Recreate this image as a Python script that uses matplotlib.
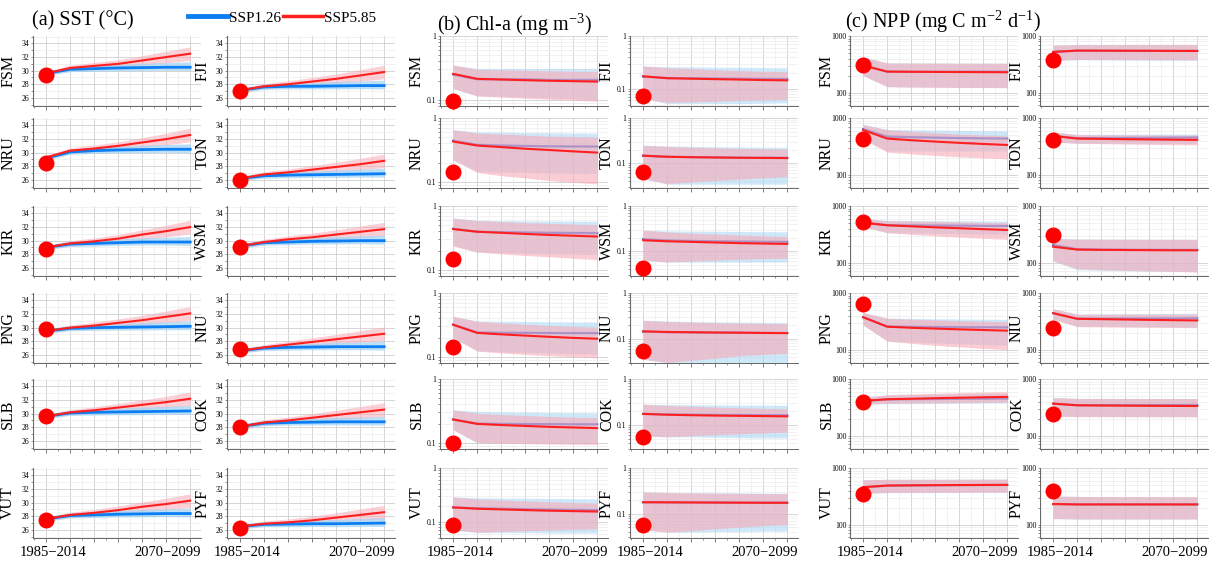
import matplotlib
matplotlib.use("Agg")
import matplotlib.pyplot as plt
from matplotlib.ticker import MultipleLocator, LogLocator, FuncFormatter, NullFormatter, FixedLocator
from matplotlib.lines import Line2D
import matplotlib.transforms as mtransforms
import numpy as np

plt.rcParams['font.family'] = ['Liberation Serif', 'DejaVu Serif']
plt.rcParams['mathtext.fontset'] = 'stix'

# ---------------- data ----------------
PERIODS = ['1985\u22122014', '', '', '', '', '', '2070\u22122099']
COL1 = ['FSM', 'NRU', 'KIR', 'PNG', 'SLB', 'VUT']
COL2 = ['FJI', 'TON', 'WSM', 'NIU', 'COK', 'PYF']
SCENARIOS = ['SSP1.26', 'SSP5.85']

# SST (deg C)
SST_OBS = {'FSM': 29.3, 'FJI': 27.0, 'NRU': 28.5, 'TON': 26.0, 'KIR': 28.7, 'WSM': 29.1,
           'PNG': 29.8, 'NIU': 26.9, 'SLB': 29.6, 'COK': 28.0, 'VUT': 27.5, 'PYF': 26.3}
SST_126 = {
    'FSM': [29.6, 30.2, 30.3, 30.4, 30.45, 30.5, 30.5],
    'FJI': [27.1, 27.6, 27.7, 27.7, 27.75, 27.8, 27.8],
    'NRU': [29.2, 30.1, 30.3, 30.4, 30.45, 30.5, 30.5],
    'TON': [26.2, 26.6, 26.7, 26.75, 26.8, 26.85, 26.9],
    'KIR': [29.0, 29.5, 29.6, 29.7, 29.8, 29.8, 29.8],
    'WSM': [29.2, 29.7, 29.8, 29.9, 29.95, 30.0, 30.0],
    'PNG': [29.5, 29.9, 30.0, 30.05, 30.1, 30.15, 30.2],
    'NIU': [26.6, 27.0, 27.1, 27.15, 27.2, 27.2, 27.2],
    'SLB': [29.6, 30.1, 30.2, 30.25, 30.3, 30.35, 30.4],
    'COK': [28.1, 28.6, 28.7, 28.75, 28.8, 28.8, 28.8],
    'VUT': [27.6, 28.1, 28.2, 28.3, 28.35, 28.4, 28.4],
    'PYF': [26.5, 26.8, 26.85, 26.9, 26.9, 26.95, 27.0],
}
SST_585 = {
    'FSM': [29.6, 30.4, 30.7, 31.0, 31.5, 32.0, 32.5],
    'FJI': [27.1, 27.7, 28.0, 28.4, 28.8, 29.3, 29.8],
    'NRU': [29.3, 30.3, 30.6, 31.0, 31.5, 32.0, 32.6],
    'TON': [26.2, 26.8, 27.1, 27.5, 27.9, 28.3, 28.8],
    'KIR': [29.0, 29.6, 29.9, 30.3, 30.9, 31.4, 32.0],
    'WSM': [29.2, 29.8, 30.2, 30.5, 30.9, 31.3, 31.7],
    'PNG': [29.5, 30.0, 30.3, 30.7, 31.1, 31.6, 32.1],
    'NIU': [26.6, 27.1, 27.5, 27.9, 28.3, 28.7, 29.1],
    'SLB': [29.6, 30.2, 30.5, 30.9, 31.3, 31.7, 32.2],
    'COK': [28.1, 28.7, 29.0, 29.4, 29.8, 30.2, 30.6],
    'VUT': [27.6, 28.2, 28.5, 28.9, 29.4, 29.8, 30.3],
    'PYF': [26.5, 26.9, 27.1, 27.4, 27.8, 28.2, 28.6],
}
SST_126_LO_DEV = [0.3, 0.35, 0.4, 0.4, 0.45, 0.45, 0.5]
SST_126_HI_DEV = [0.3, 0.4, 0.5, 0.55, 0.65, 0.7, 0.8]
SST_585_DEV = [0.3, 0.4, 0.5, 0.6, 0.7, 0.85, 1.0]

# Chl-a (mg m-3)
CHL_OBS = {'FSM': 0.097, 'FJI': 0.072, 'NRU': 0.144, 'TON': 0.065, 'KIR': 0.15, 'WSM': 0.043,
           'PNG': 0.14, 'NIU': 0.054, 'SLB': 0.1, 'COK': 0.055, 'VUT': 0.089, 'PYF': 0.057}
CHL_126 = {
    'FSM': [0.25, 0.21, 0.21, 0.21, 0.205, 0.205, 0.205],
    'FJI': [0.17, 0.16, 0.158, 0.156, 0.155, 0.154, 0.153],
    'NRU': [0.44, 0.38, 0.37, 0.365, 0.36, 0.358, 0.357],
    'TON': [0.146, 0.138, 0.136, 0.134, 0.133, 0.132, 0.131],
    'KIR': [0.44, 0.395, 0.39, 0.385, 0.38, 0.377, 0.374],
    'WSM': [0.183, 0.172, 0.168, 0.165, 0.163, 0.161, 0.16],
    'PNG': [0.32, 0.24, 0.238, 0.237, 0.236, 0.235, 0.235],
    'NIU': [0.146, 0.14, 0.139, 0.138, 0.137, 0.136, 0.135],
    'SLB': [0.232, 0.2, 0.198, 0.197, 0.196, 0.195, 0.195],
    'COK': [0.174, 0.17, 0.168, 0.166, 0.165, 0.164, 0.163],
    'VUT': [0.185, 0.178, 0.175, 0.172, 0.169, 0.167, 0.165],
    'PYF': [0.177, 0.176, 0.175, 0.175, 0.174, 0.174, 0.173],
}
CHL_126_LO = {
    'FSM': [0.15, 0.115, 0.113, 0.11, 0.107, 0.104, 0.10],
    'FJI': [0.065, 0.052, 0.052, 0.052, 0.052, 0.053, 0.054],
    'NRU': [0.22, 0.145, 0.142, 0.14, 0.138, 0.136, 0.135],
    'TON': [0.045, 0.034, 0.034, 0.034, 0.034, 0.034, 0.034],
    'KIR': [0.24, 0.19, 0.185, 0.182, 0.179, 0.176, 0.174],
    'WSM': [0.063, 0.057, 0.057, 0.057, 0.057, 0.057, 0.057],
    'PNG': [0.2, 0.124, 0.12, 0.117, 0.114, 0.112, 0.11],
    'NIU': [0.036, 0.03, 0.03, 0.03, 0.03, 0.03, 0.03],
    'SLB': [0.16, 0.1, 0.1, 0.099, 0.099, 0.098, 0.098],
    'COK': [0.058, 0.055, 0.055, 0.054, 0.053, 0.052, 0.052],
    'VUT': [0.071, 0.063, 0.063, 0.063, 0.062, 0.062, 0.062],
    'PYF': [0.044, 0.039, 0.039, 0.04, 0.04, 0.041, 0.041],
}
CHL_126_HI = {
    'FSM': [0.35, 0.31, 0.31, 0.31, 0.31, 0.31, 0.31],
    'FJI': [0.27, 0.26, 0.26, 0.255, 0.255, 0.252, 0.25],
    'NRU': [0.66, 0.6, 0.6, 0.59, 0.59, 0.58, 0.58],
    'TON': [0.25, 0.24, 0.235, 0.23, 0.228, 0.225, 0.223],
    'KIR': [0.65, 0.6, 0.59, 0.585, 0.58, 0.578, 0.576],
    'WSM': [0.29, 0.28, 0.277, 0.274, 0.272, 0.27, 0.268],
    'PNG': [0.43, 0.365, 0.36, 0.357, 0.354, 0.352, 0.35],
    'NIU': [0.255, 0.245, 0.24, 0.236, 0.233, 0.23, 0.228],
    'SLB': [0.33, 0.31, 0.305, 0.303, 0.3, 0.298, 0.297],
    'COK': [0.283, 0.278, 0.275, 0.273, 0.271, 0.27, 0.268],
    'VUT': [0.29, 0.28, 0.277, 0.274, 0.271, 0.269, 0.267],
    'PYF': [0.298, 0.29, 0.287, 0.285, 0.283, 0.281, 0.28],
}
CHL_585 = {
    'FSM': [0.255, 0.213, 0.208, 0.203, 0.199, 0.196, 0.193],
    'FJI': [0.172, 0.158, 0.155, 0.152, 0.149, 0.146, 0.144],
    'NRU': [0.428, 0.37, 0.35, 0.33, 0.315, 0.3, 0.287],
    'TON': [0.146, 0.138, 0.135, 0.133, 0.131, 0.13, 0.129],
    'KIR': [0.435, 0.395, 0.38, 0.365, 0.352, 0.342, 0.332],
    'WSM': [0.174, 0.165, 0.16, 0.155, 0.15, 0.147, 0.144],
    'PNG': [0.318, 0.237, 0.225, 0.215, 0.206, 0.198, 0.192],
    'NIU': [0.146, 0.142, 0.14, 0.138, 0.137, 0.135, 0.134],
    'SLB': [0.232, 0.198, 0.19, 0.184, 0.178, 0.174, 0.17],
    'COK': [0.174, 0.167, 0.163, 0.16, 0.158, 0.156, 0.154],
    'VUT': [0.185, 0.175, 0.17, 0.165, 0.161, 0.158, 0.155],
    'PYF': [0.177, 0.176, 0.175, 0.174, 0.173, 0.172, 0.172],
}
CHL_585_LO = {
    'FSM': [0.15, 0.115, 0.11, 0.106, 0.102, 0.099, 0.095],
    'FJI': [0.065, 0.055, 0.056, 0.058, 0.06, 0.061, 0.063],
    'NRU': [0.22, 0.14, 0.125, 0.115, 0.105, 0.098, 0.093],
    'TON': [0.045, 0.035, 0.038, 0.041, 0.044, 0.047, 0.05],
    'KIR': [0.235, 0.19, 0.178, 0.168, 0.16, 0.152, 0.145],
    'WSM': [0.063, 0.057, 0.06, 0.063, 0.066, 0.068, 0.07],
    'PNG': [0.2, 0.123, 0.115, 0.109, 0.104, 0.1, 0.096],
    'NIU': [0.036, 0.031, 0.034, 0.038, 0.043, 0.046, 0.049],
    'SLB': [0.16, 0.1, 0.098, 0.097, 0.096, 0.095, 0.094],
    'COK': [0.058, 0.055, 0.058, 0.061, 0.064, 0.067, 0.07],
    'VUT': [0.071, 0.064, 0.066, 0.068, 0.07, 0.072, 0.074],
    'PYF': [0.044, 0.039, 0.042, 0.046, 0.05, 0.054, 0.057],
}
CHL_585_HI = {
    'FSM': [0.35, 0.30, 0.295, 0.29, 0.285, 0.28, 0.278],
    'FJI': [0.27, 0.25, 0.24, 0.23, 0.22, 0.215, 0.21],
    'NRU': [0.65, 0.58, 0.56, 0.54, 0.52, 0.51, 0.5],
    'TON': [0.247, 0.235, 0.225, 0.218, 0.212, 0.208, 0.205],
    'KIR': [0.64, 0.59, 0.57, 0.55, 0.535, 0.52, 0.51],
    'WSM': [0.29, 0.265, 0.25, 0.24, 0.228, 0.218, 0.21],
    'PNG': [0.433, 0.36, 0.34, 0.325, 0.31, 0.3, 0.29],
    'NIU': [0.255, 0.24, 0.232, 0.226, 0.222, 0.218, 0.215],
    'SLB': [0.325, 0.29, 0.278, 0.268, 0.26, 0.252, 0.247],
    'COK': [0.283, 0.265, 0.255, 0.245, 0.237, 0.23, 0.226],
    'VUT': [0.288, 0.265, 0.255, 0.245, 0.236, 0.229, 0.224],
    'PYF': [0.298, 0.288, 0.284, 0.28, 0.277, 0.275, 0.273],
}

# NPP (mg C m-2 d-1)
NPP_OBS = {'FSM': 310, 'FJI': 371, 'NRU': 422, 'TON': 410, 'KIR': 522, 'WSM': 308,
           'PNG': 636, 'NIU': 244, 'SLB': 399, 'COK': 244, 'VUT': 348, 'PYF': 399}
NPP_126 = {
    'FSM': [300, 235, 234, 234, 234, 235, 235],
    'FJI': [523, 550, 548, 547, 546, 545, 545],
    'NRU': [636, 470, 458, 450, 443, 437, 433],
    'TON': [483, 440, 442, 445, 447, 450, 452],
    'KIR': [510, 460, 455, 452, 449, 446, 444],
    'WSM': [205, 172, 170, 169, 169, 168, 168],
    'PNG': [375, 256, 253, 251, 249, 248, 247],
    'NIU': [440, 352, 353, 354, 355, 356, 358],
    'SLB': [410, 435, 440, 443, 446, 449, 452],
    'COK': [367, 345, 346, 346, 347, 347, 348],
    'VUT': [458, 488, 492, 495, 498, 500, 502],
    'PYF': [231, 228, 228, 228, 228, 228, 228],
}
NPP_126_LO = {
    'FSM': [200, 128, 126, 125, 124, 123, 123],
    'FJI': [370, 380, 378, 376, 374, 372, 370],
    'NRU': [422, 262, 262, 262, 261, 261, 261],
    'TON': [378, 357, 357, 356, 355, 355, 354],
    'KIR': [432, 338, 333, 328, 324, 320, 316],
    'WSM': [107, 75, 73, 72, 71, 70, 70],
    'PNG': [272, 142, 136, 131, 127, 123, 120],
    'NIU': [345, 258, 256, 254, 252, 250, 248],
    'SLB': [355, 365, 368, 370, 372, 374, 376],
    'COK': [222, 216, 216, 216, 215, 215, 215],
    'VUT': [358, 366, 367, 368, 369, 370, 370],
    'PYF': [128, 125, 125, 125, 125, 125, 125],
}
NPP_126_HI = {
    'FSM': [425, 336, 335, 334, 333, 333, 332],
    'FJI': [690, 712, 712, 712, 712, 712, 712],
    'NRU': [780, 630, 620, 610, 604, 598, 594],
    'TON': [570, 515, 515, 516, 517, 517, 518],
    'KIR': [600, 560, 555, 551, 548, 545, 543],
    'WSM': [268, 262, 261, 260, 259, 259, 258],
    'PNG': [455, 360, 355, 351, 348, 345, 343],
    'NIU': [526, 425, 428, 431, 434, 437, 440],
    'SLB': [470, 520, 530, 540, 548, 555, 560],
    'COK': [470, 455, 455, 454, 453, 453, 452],
    'VUT': [619, 632, 633, 634, 635, 636, 636],
    'PYF': [321, 315, 314, 313, 313, 312, 312],
}
NPP_585 = {
    'FSM': [302, 235, 233, 232, 231, 230, 229],
    'FJI': [523, 553, 551, 549, 548, 546, 545],
    'NRU': [611, 433, 405, 383, 364, 348, 334],
    'TON': [483, 433, 428, 422, 418, 414, 410],
    'KIR': [508, 456, 438, 420, 405, 390, 377],
    'WSM': [191, 170, 168, 167, 166, 165, 165],
    'PNG': [373, 254, 243, 235, 228, 222, 216],
    'NIU': [440, 350, 345, 340, 335, 331, 327],
    'SLB': [410, 439, 448, 458, 467, 475, 483],
    'COK': [367, 343, 340, 338, 336, 335, 333],
    'VUT': [458, 490, 494, 497, 500, 502, 504],
    'PYF': [231, 227, 227, 227, 227, 227, 227],
}
NPP_585_LO = {
    'FSM': [199, 127, 125, 124, 123, 123, 122],
    'FJI': [372, 385, 384, 383, 382, 381, 381],
    'NRU': [420, 250, 232, 218, 206, 197, 190],
    'TON': [377, 357, 352, 347, 342, 338, 334],
    'KIR': [432, 338, 316, 297, 282, 269, 258],
    'WSM': [107, 78, 75, 73, 71, 70, 68],
    'PNG': [272, 141, 129, 119, 112, 105, 100],
    'NIU': [344, 254, 252, 250, 248, 246, 244],
    'SLB': [358, 370, 374, 378, 382, 385, 388],
    'COK': [221, 216, 216, 215, 215, 215, 215],
    'VUT': [358, 370, 371, 372, 372, 373, 373],
    'PYF': [128, 126, 126, 126, 126, 126, 126],
}
NPP_585_HI = {
    'FSM': [425, 334, 333, 332, 331, 330, 330],
    'FJI': [689, 705, 706, 707, 708, 709, 709],
    'NRU': [760, 619, 580, 550, 520, 500, 484],
    'TON': [570, 505, 503, 501, 499, 497, 496],
    'KIR': [598, 550, 540, 530, 520, 512, 505],
    'WSM': [265, 260, 259, 259, 258, 258, 258],
    'PNG': [452, 358, 345, 335, 325, 318, 312],
    'NIU': [526, 422, 422, 422, 422, 422, 422],
    'SLB': [470, 530, 545, 560, 575, 585, 594],
    'COK': [470, 453, 453, 452, 452, 452, 452],
    'VUT': [619, 630, 631, 632, 634, 635, 636],
    'PYF': [321, 314, 313, 312, 312, 312, 312],
}

# ---------------- layout / style ----------------
W, H = 1213, 563
BLUE = '#0a7ef2'
RED = '#ff1f1f'
BLUE_FILL = '#9fd3f5'
RED_FILL = '#f8aab6'

LEFTS = [33, 227, 440, 630, 850, 1040]
PANEL_W = 168
BOTTOMS = [106, 188, 276, 363, 449, 538]
PANEL_H = 70

CHL_YMIN = {'FSM': 0.08, 'NRU': 0.08, 'KIR': 0.08, 'PNG': 0.08, 'SLB': 0.08, 'VUT': 0.05,
            'FJI': 0.047, 'TON': 0.028, 'WSM': 0.028, 'NIU': 0.03, 'COK': 0.03, 'PYF': 0.029}

fig = plt.figure(figsize=(W / 100, H / 100), dpi=100)

x = np.arange(len(PERIODS))


def make_ax(left_px, bottom_px):
    return fig.add_axes([left_px / W, (H - bottom_px) / H, PANEL_W / W, PANEL_H / H])


def style_ax(ax, country, row):
    ax.set_xlim(-0.55, 6.45)
    ax.xaxis.set_major_locator(FixedLocator(x))
    ax.xaxis.set_minor_locator(MultipleLocator(0.5))
    ax.set_xticklabels([''] * len(PERIODS))
    if row == 5:
        trans = mtransforms.blended_transform_factory(ax.transData, ax.transAxes)
        ax.text(x[0] + 0.3, -0.12, PERIODS[0], transform=trans, ha='center', va='top',
                fontsize=10.5)
        ax.text(6.45, -0.12, PERIODS[-1], transform=trans, ha='right', va='top',
                fontsize=10.5)
    ax.grid(which='major', color='#cfcfcf', lw=0.6)
    ax.grid(which='minor', color='#ececec', lw=0.5)
    ax.set_axisbelow(True)
    for s in ['top', 'right']:
        ax.spines[s].set_visible(False)
    for s in ['left', 'bottom']:
        ax.spines[s].set_color('#666666')
        ax.spines[s].set_linewidth(0.7)
    ax.tick_params(axis='x', which='major', length=3, width=0.6, color='#666666', pad=1)
    ax.tick_params(axis='x', which='minor', length=1.5, width=0.5, color='#666666')
    ax.tick_params(axis='y', which='both', labelsize=5.5, length=1.5, width=0.5,
                   color='#666666', pad=1)
    ax.set_ylabel(country, fontsize=11.5, labelpad=0)
    ax.yaxis.set_label_coords(-0.1, 0.5)


def draw(ax, obs, m1, lo1, hi1, m2, lo2, hi2, sst=False):
    if sst:
        ax.fill_between(x, lo2, hi2, color=RED_FILL, alpha=0.55, lw=0, zorder=1)
        ax.fill_between(x, lo1, hi1, color=BLUE_FILL, alpha=0.7, lw=0, zorder=2)
        ax.plot(x, m1, color=BLUE, lw=2.0, zorder=3)
        ax.plot(x, m2, color=RED, lw=1.5, zorder=4)
    else:
        ax.fill_between(x, lo1, hi1, color=BLUE_FILL, alpha=0.5, lw=0, zorder=1)
        ax.plot(x, m1, color='#3d6fe0', lw=1.6, zorder=2)
        ax.fill_between(x, lo2, hi2, color=RED_FILL, alpha=0.6, lw=0, zorder=3)
        ax.plot(x, m2, color=RED, lw=1.5, zorder=4)
    ax.plot([x[0]], [obs], 'o', color='#ff0000', ms=10.5, zorder=6, clip_on=False)


log_fmt = FuncFormatter(lambda v, _: f'{v:g}')

for c, col in enumerate([COL1, COL2]):
    for r, country in enumerate(col):
        # SST
        ax = make_ax(LEFTS[0 + c], BOTTOMS[r])
        m1 = np.array(SST_126[country])
        m2 = np.array(SST_585[country])
        draw(ax, SST_OBS[country],
             m1, m1 - np.array(SST_126_LO_DEV), m1 + np.array(SST_126_HI_DEV),
             m2, m2 - np.array(SST_585_DEV), m2 + np.array(SST_585_DEV), sst=True)
        ax.set_ylim(24.8, 35.1)
        ax.yaxis.set_minor_locator(MultipleLocator(1))
        ax.set_yticks([26, 28, 30, 32, 34])
        style_ax(ax, country, r)

        # Chl-a
        ax = make_ax(LEFTS[2 + c], BOTTOMS[r])
        draw(ax, CHL_OBS[country],
             CHL_126[country], CHL_126_LO[country], CHL_126_HI[country],
             CHL_585[country], CHL_585_LO[country], CHL_585_HI[country])
        ax.set_yscale('log')
        ax.set_ylim(CHL_YMIN[country], 1.0)
        ax.yaxis.set_major_locator(LogLocator(base=10, numticks=5))
        ax.yaxis.set_major_formatter(log_fmt)
        ax.yaxis.set_minor_locator(LogLocator(base=10, subs=np.arange(2, 10), numticks=20))
        ax.yaxis.set_minor_formatter(NullFormatter())
        style_ax(ax, country, r)
        ax.yaxis.set_label_coords(-0.09, 0.5)

        # NPP
        ax = make_ax(LEFTS[4 + c], BOTTOMS[r])
        draw(ax, NPP_OBS[country],
             NPP_126[country], NPP_126_LO[country], NPP_126_HI[country],
             NPP_585[country], NPP_585_LO[country], NPP_585_HI[country])
        ax.set_yscale('log')
        ax.set_ylim(58, 1000)
        ax.yaxis.set_major_locator(LogLocator(base=10, numticks=5))
        ax.yaxis.set_major_formatter(log_fmt)
        ax.yaxis.set_minor_locator(LogLocator(base=10, subs=np.arange(2, 10), numticks=20))
        ax.yaxis.set_minor_formatter(NullFormatter())
        style_ax(ax, country, r)
        ax.yaxis.set_label_coords(-0.09, 0.5)

# titles
fig.text(32 / W, 1 - 21 / H, '(a) SST (\u00b0C)', fontsize=14.5, va='center', ha='left')
fig.text(437 / W, 1 - 25 / H, r'(b) Chl-a (mg m$^{\mathregular{-3}}$)', fontsize=14.5,
         va='center', ha='left')
fig.text(845 / W, 1 - 22 / H, r'(c) NPP (mg C m$^{\mathregular{-2}}$ d$^{\mathregular{-1}}$)',
         fontsize=14.5, va='center', ha='left')

handles = [Line2D([0], [0], color=BLUE, lw=3.5), Line2D([0], [0], color=RED, lw=2.5)]
fig.legend(handles, SCENARIOS, loc='center left', bbox_to_anchor=(188 / W, 1 - 18 / H),
           ncol=2, frameon=False, fontsize=11, handlelength=2.6, handletextpad=0.1,
           columnspacing=0.1, borderaxespad=0, borderpad=0)

fig.savefig('out.png', dpi=100)
